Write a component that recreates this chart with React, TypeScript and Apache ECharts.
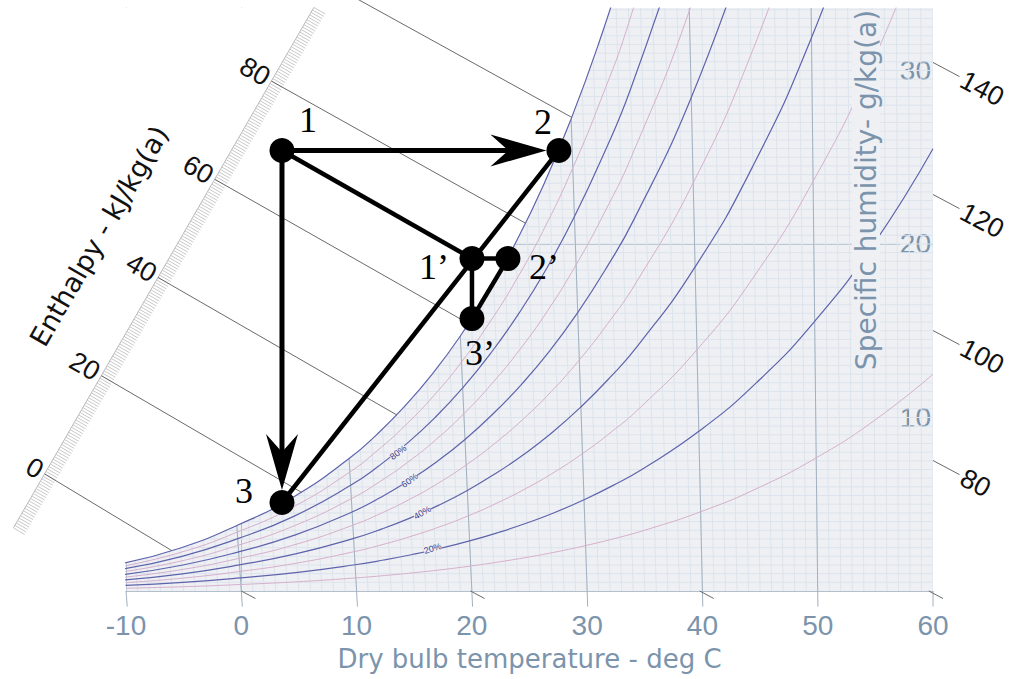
import { useEffect, useRef } from "react";
import * as echarts from "echarts";

// ---------------- data ----------------
const tempSamples = [-10, -5, 0, 5, 10, 12.5, 15, 17.5, 20, 22.5, 25, 27.5, 30, 32.5, 35, 40, 45, 50, 55, 60];
const satPressureKPa = [0.26, 0.402, 0.611, 0.873, 1.228, 1.45, 1.706, 2.0, 2.339, 2.729, 3.17, 3.672, 4.247, 4.898, 5.629, 7.385, 9.595, 12.352, 15.762, 19.946];
const rhLevels = [10, 20, 30, 40, 50, 60, 70, 80, 90, 100];

const rhLabelTexts = ["80%", "60%", "40%", "20%"];
const rhLabelX = [13.6, 14.6, 15.7, 16.6];
const rhLabelW = [7.98, 6.37, 4.52, 2.45];
const rhLabelAngle = [37, 36, 30, 17];

const dryBulbTicks = [-10, 0, 10, 20, 30, 40, 50, 60];
const dryBulbInnerLines = [0, 10, 20, 30, 40, 50];

const rulerH = [0, 80];
const rulerX = [-17.06, 2.61];
const rulerW = [6.75, 29.39];
const rulerRange = [-11, 95];
const rulerLabels = [0, 20, 40, 60, 80];

const enthalpyLeftH = [0, 20, 40, 60, 80, 100];
const enthalpySatX = [-6.01, 5.21, 13.48, 19.72, 24.64, 28.66];
const enthalpySatW = [2.32, 5.69, 10.15, 15.41, 21.2, 27.3];

const enthalpyRightH = [80, 100, 120, 140];
const enthalpyRightW = [7.52, 15.01, 22.85, 30.46];

const enthalpyBottomH = [0, 20, 40, 60];
const enthalpyBottomX = [0, 19.88, 39.76, 59.64];

const pointNames = ["1", "2", "1\u2019", "2\u2019", "3\u2019", "3"];
const pointX = [3.53, 27.55, 20.01, 23.13, 20.01, 3.53];
const pointW = [25.39, 25.39, 19.16, 19.16, 15.7, 5.1];
const arrowPairs = [[0, 1], [0, 5]];
const linePairs = [[0, 2], [1, 5], [2, 3], [2, 4], [3, 4]];

// layout (pixels) for the point labels
const pointLabelDx = [26, -16, -38, 36, 8, -38];
const pointLabelDy = [-30, -28, 8, 8, 34, -12];

// ---------------- chart constants ----------------
const P_ATM = 101.325;
const SKEW = 0.0017;
const T_REF = 60;
const W_MAX = 33.6;

const C = {
  plotBg: "#eef0f4",
  fine: "#dde4ec",
  major: "#a2b1c0",
  axisText: "#7b94ac",
  blue: "#5f63ab",
  pink: "#d6afcb",
  rhText: "#3a3d8c",
  enth: "#6a6a6a",
  hatch: "#c9c9c9",
};

function humidityRatio(rh: number, ps: number) {
  const pv = (rh / 100) * ps;
  return (622 * pv) / (P_ATM - pv);
}
function skewX(t: number, w: number) {
  return t - SKEW * (T_REF - t) * w;
}
function rhCurve(rh: number) {
  const pts: number[][] = [];
  for (let i = 0; i < tempSamples.length; i++) {
    const w = humidityRatio(rh, satPressureKPa[i]);
    pts.push([skewX(tempSamples[i], w), w]);
    if (w > W_MAX + 1) break;
  }
  return pts;
}

const seg = (a: number[], b: number[], stroke: string, lineWidth: number) => ({
  type: "line",
  silent: true,
  shape: { x1: a[0], y1: a[1], x2: b[0], y2: b[1] },
  style: { stroke, lineWidth, lineCap: "butt" },
});

const txt = (
  x: number,
  y: number,
  text: string,
  font: string,
  fill: string,
  align: string,
  vAlign: string,
  rotation: number,
  extra: any = {}
) => ({
  type: "text",
  x,
  y,
  rotation,
  silent: true,
  style: {
    text,
    font,
    fill,
    align,
    verticalAlign: vAlign,
    textAlign: align,
    textVerticalAlign: vAlign,
    ...extra,
  },
});

function buildOption() {
  const satCurve = rhCurve(100);
  const rad = Math.PI / 180;

  const fineGrid = {
    type: "custom",
    clip: true,
    silent: true,
    z: 1,
    data: [[0, 0]],
    renderItem: (_p: any, api: any) => {
      const children: any[] = [];
      for (let t = -10; t <= 60; t += 1) {
        children.push(seg(api.coord([t, 0]), api.coord([skewX(t, W_MAX), W_MAX]), C.fine, 1));
      }
      for (let k = 1; k <= 67; k++) {
        const w = k * 0.5;
        children.push(seg(api.coord([-10, w]), api.coord([60, w]), C.fine, 1));
      }
      return { type: "group", children };
    },
  };

  const majorLines = {
    type: "custom",
    clip: true,
    silent: true,
    z: 1,
    data: [[0, 0]],
    renderItem: (_p: any, api: any) => {
      const children: any[] = dryBulbInnerLines.map((t) =>
        seg(api.coord([t, 0]), api.coord([skewX(t, W_MAX), W_MAX]), C.major, 1)
      );
      return { type: "group", children };
    },
  };

  const mask = {
    type: "line",
    data: satCurve,
    smooth: true,
    symbol: "none",
    silent: true,
    z: 2,
    lineStyle: { width: 0, opacity: 0 },
    areaStyle: { color: "#ffffff", opacity: 1, origin: "end" },
  };

  const rhSeries = rhLevels.map((rh) => ({
    type: "line",
    name: rh + "%",
    data: rhCurve(rh),
    smooth: true,
    symbol: "none",
    silent: true,
    z: 3,
    lineStyle: { color: rh % 20 === 0 ? C.blue : C.pink, width: rh % 20 === 0 ? 1.2 : 1 },
  }));

  const rhLabels = {
    type: "custom",
    clip: true,
    silent: true,
    z: 4,
    data: [[0, 0]],
    renderItem: (_p: any, api: any) => {
      const children = rhLabelTexts.map((t, i) => {
        const p = api.coord([rhLabelX[i], rhLabelW[i]]);
        return txt(p[0], p[1], t, '9px "Liberation Sans"', C.rhText, "center", "middle", rhLabelAngle[i] * rad, {
          backgroundColor: C.plotBg,
        });
      });
      return { type: "group", children };
    },
  };

  const outer = {
    type: "custom",
    clip: false,
    silent: true,
    z: 5,
    data: [[0, 0]],
    renderItem: (_p: any, api: any) => {
      const children: any[] = [];
      // dry bulb ticks below the axis
      dryBulbTicks.forEach((t) => {
        children.push(seg(api.coord([t, 0]), api.coord([skewX(t, -0.9), -0.9]), C.major, 1));
      });
      // enthalpy ruler
      const p0 = api.coord([rulerX[0], rulerW[0]]);
      const p1 = api.coord([rulerX[1], rulerW[1]]);
      const dh = rulerH[1] - rulerH[0];
      const dx = (p1[0] - p0[0]) / dh;
      const dy = (p1[1] - p0[1]) / dh;
      const at = (h: number) => [p0[0] + (h - rulerH[0]) * dx, p0[1] + (h - rulerH[0]) * dy];
      const len = Math.hypot(dx, dy);
      const nx = -dy / len;
      const ny = dx / len;
      children.push(seg(at(rulerRange[0]), at(rulerRange[1]), "#b8b8b8", 1));
      for (let h = rulerRange[0]; h <= rulerRange[1] + 1e-6; h += 0.5) {
        const a = at(h);
        children.push(seg(a, [a[0] + nx * 13, a[1] + ny * 13], C.hatch, 1));
      }
      // enthalpy lines from ruler to saturation
      enthalpyLeftH.forEach((h, i) => {
        children.push(seg(at(h), api.coord([enthalpySatX[i], enthalpySatW[i]]), C.enth, 1));
      });
      rulerLabels.forEach((h) => {
        const a = at(h);
        children.push(
          txt(a[0] - nx * 4, a[1] - ny * 4, String(h), '27px "Liberation Sans"', "#111", "right", "middle", -30 * rad)
        );
      });
      // right side enthalpy ticks
      const ang = 28 * rad;
      const ux = Math.cos(ang);
      const uy = Math.sin(ang);
      enthalpyRightH.forEach((h, i) => {
        const a = api.coord([60, enthalpyRightW[i]]);
        const b = [a[0] + ux * 30, a[1] + uy * 30];
        children.push(seg(a, b, C.enth, 1));
        children.push(
          txt(b[0] + ux * 3, b[1] + uy * 3, String(h), '27px "Liberation Sans"', "#111", "left", "middle", -ang)
        );
      });
      // bottom enthalpy ticks
      enthalpyBottomH.forEach((_h, i) => {
        const a = api.coord([enthalpyBottomX[i], 0]);
        children.push(seg(a, [a[0] + ux * 16, a[1] + uy * 16], C.enth, 1));
      });
      return { type: "group", children };
    },
  };

  const annotations = {
    type: "custom",
    clip: false,
    silent: true,
    z: 6,
    data: [[0, 0]],
    renderItem: (_p: any, api: any) => {
      const children: any[] = [];
      const pts = pointX.map((x, i) => api.coord([x, pointW[i]]));
      const R = 12.5;
      linePairs.forEach(([a, b]) => {
        children.push(seg(pts[a], pts[b], "#000", 4.5));
      });
      arrowPairs.forEach(([a, b]) => {
        const A = pts[a];
        const B = pts[b];
        const L = Math.hypot(B[0] - A[0], B[1] - A[1]);
        const ux = (B[0] - A[0]) / L;
        const uy = (B[1] - A[1]) / L;
        const nx = -uy;
        const ny = ux;
        const tip = [B[0] - ux * R, B[1] - uy * R];
        const back = 56;
        const notch = 38;
        const hw = 16;
        const base = [tip[0] - ux * back, tip[1] - uy * back];
        const nt = [tip[0] - ux * notch, tip[1] - uy * notch];
        children.push(seg(A, [nt[0] + ux * 4, nt[1] + uy * 4], "#000", 5));
        children.push({
          type: "polygon",
          silent: true,
          shape: {
            points: [tip, [base[0] + nx * hw, base[1] + ny * hw], nt, [base[0] - nx * hw, base[1] - ny * hw]],
          },
          style: { fill: "#000" },
        });
      });
      pts.forEach((p, i) => {
        children.push({ type: "circle", silent: true, shape: { cx: p[0], cy: p[1], r: R }, style: { fill: "#000" } });
        children.push(
          txt(p[0] + pointLabelDx[i], p[1] + pointLabelDy[i], pointNames[i], '36px "Liberation Serif"', "#000", "center", "middle", 0)
        );
      });
      return { type: "group", children };
    },
  };

  return {
    animation: false,
    backgroundColor: "#ffffff",
    grid: { left: 126, right: 83, top: 8, bottom: 88, show: true, backgroundColor: C.plotBg, borderWidth: 0 },
    xAxis: {
      type: "value",
      min: -10,
      max: 60,
      interval: 10,
      axisLine: { show: true, lineStyle: { color: "#b3c0cc", width: 1 } },
      axisTick: { show: false },
      splitLine: { show: false },
      axisLabel: { color: C.axisText, fontSize: 28, fontFamily: "Liberation Sans", margin: 20 },
      name: "Dry bulb temperature - deg C",
      nameLocation: "middle",
      nameGap: 55,
      nameTextStyle: { color: C.axisText, fontSize: 26, fontFamily: "DejaVu Sans" },
    },
    yAxis: [
      {
        type: "value",
        position: "right",
        min: 0,
        max: W_MAX,
        interval: 10,
        axisLine: { show: true, lineStyle: { color: "#b3c0cc", width: 1 } },
        axisTick: { show: false },
        axisLabel: {
          inside: true,
          margin: 2,
          color: C.axisText,
          fontSize: 28,
          fontFamily: "Liberation Sans",
          backgroundColor: C.plotBg,
          formatter: (v: number) => (v > 0 && Math.abs(v % 10) < 1e-9 ? String(v) : ""),
        },
        splitLine: { show: true, showMinLine: false, showMaxLine: false, lineStyle: { color: C.major, width: 1 } },
      },
      {
        type: "value",
        position: "left",
        min: 0,
        max: W_MAX,
        interval: 10,
        axisLine: { show: true, lineStyle: { color: "#b3c0cc", width: 1 } },
        axisTick: { show: false },
        axisLabel: { show: false },
        splitLine: { show: false },
      },
    ],
    graphic: [
      {
        type: "text",
        x: 866,
        y: 190,
        rotation: Math.PI / 2,
        z: 100,
        silent: true,
        style: {
          text: "Specific humidity- g/kg(a)",
          font: '28px "DejaVu Sans"',
          fill: C.axisText,
          align: "center",
          verticalAlign: "middle",
          textAlign: "center",
          textVerticalAlign: "middle",
          backgroundColor: C.plotBg,
        },
      },
      {
        type: "text",
        x: 99,
        y: 236,
        rotation: Math.PI / 3,
        z: 100,
        silent: true,
        style: {
          text: "Enthalpy - kJ/kg(a)",
          font: '27px "DejaVu Sans"',
          fill: "#111",
          align: "center",
          verticalAlign: "middle",
          textAlign: "center",
          textVerticalAlign: "middle",
        },
      },
    ],
    series: [fineGrid, majorLines, mask, ...rhSeries, rhLabels, outer, annotations],
  };
}

export default function App() {
  const ref = useRef<HTMLDivElement>(null);
  useEffect(() => {
    if (!ref.current) return;
    const chart = echarts.init(ref.current, undefined, { renderer: "svg" });
    chart.setOption(buildOption() as any);
    return () => chart.dispose();
  }, []);
  return (
    <div
      ref={ref}
      style={{ position: "fixed", left: 0, top: 0, width: 1016, height: 679, background: "#fff" }}
    />
  );
}
